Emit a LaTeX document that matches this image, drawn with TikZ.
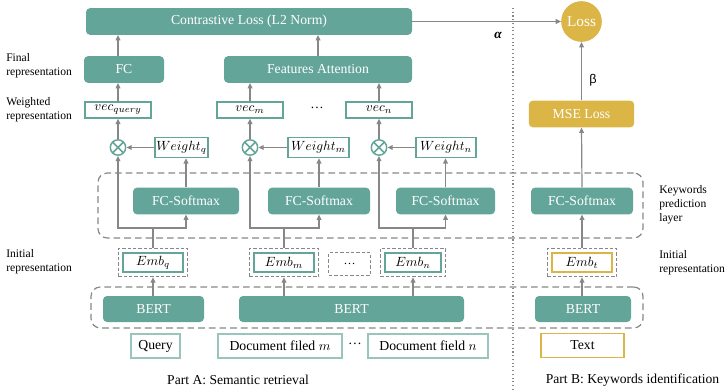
\documentclass[tikz,border=0pt]{standalone}
\usepackage{fontspec}
\setmainfont{Liberation Serif}
\newfontfamily\greekfont{Liberation Sans}
\usetikzlibrary{arrows.meta,positioning,fit,backgrounds}
\definecolor{kgreen}{HTML}{64A59A}
\definecolor{kyellow}{HTML}{DCB547}
\definecolor{kgray}{HTML}{878787}
\newcommand{\sidefont}{\fontsize{8.7}{10.5}\selectfont}
\tikzset{
  block/.style={
    rectangle,
    rounded corners=3pt,
    fill=kgreen,
    text=white,
    inner sep=0pt,
    minimum height=20pt,
    font=\fontsize{10.3}{12}\selectfont
  },
  yblock/.style={
    block,
    fill=kyellow
  },
  vecbox/.style={
    rectangle,
    draw=kgreen,
    line width=1.1pt,
    fill=white,
    inner sep=1pt,
    minimum width=49.5pt,
    minimum height=12pt,
    font=\fontsize{9.6}{10}\selectfont
  },
  weightbox/.style={
    vecbox,
    minimum height=15pt
  },
  embbox/.style={
    vecbox,
    minimum width=45pt,
    minimum height=14.25pt
  },
  embframe/.style={
    rectangle,
    draw=kgray,
    line width=0.9pt,
    dash pattern=on 2.5pt off 1.5pt,
    inner sep=3pt
  },
  inbox/.style={
    rectangle,
    draw=kgreen!65,
    line width=1.1pt,
    minimum height=18pt,
    inner sep=0pt,
    font=\fontsize{10.3}{12}\selectfont
  },
  group/.style={
    rectangle,
    rounded corners=7pt,
    draw=kgray,
    line width=0.9pt,
    dash pattern=on 5pt off 3pt,
    inner sep=0pt
  },
  mult/.style={
    circle,
    draw=kgreen,
    line width=1.1pt,
    minimum size=11.5pt,
    inner sep=0pt,
    path picture={
      \draw[kgreen, line width=1.1pt]
        (path picture bounding box.north west) -- (path picture bounding box.south east)
        (path picture bounding box.south west) -- (path picture bounding box.north east);
    }
  },
  sidelabel/.style={
    anchor=west,
    align=left,
    inner sep=0pt,
    font=\sidefont
  },
  arrow/.style={
    -{Triangle[length=4pt,width=3.6pt]},
    line width=0.9pt,
    draw=kgray
  },
  line/.style={
    line width=0.9pt,
    draw=kgray
  }
}

\begin{document}
\begin{tikzpicture}[x=0.75pt, y=-0.75pt]
  \useasboundingbox (0,0) rectangle (727,392);

  % losses
  \node[block, minimum width=244.5pt] (closs) at (249,21.5) {Contrastive Loss (L2 Norm)};
  \node[yblock, circle, minimum size=30.5pt, font=\fontsize{11.5}{13}\selectfont] (loss) at (581.5,21.5) {Loss};
  \node[yblock, minimum width=79pt] (mse) at (581.5,114) {MSE Loss};

  % final and weighted representation
  \node[block, minimum width=60pt] (fc) at (124,69.5) {FC};
  \node[block, minimum width=141pt] (fa) at (318,69.5) {Features Attention};
  \node[vecbox] (vecq) at (118,110) {$vec_{query}$};
  \node[vecbox] (vecm) at (250,110) {$vec_m$};
  \node[font=\fontsize{10}{12}\selectfont] (vdots) at (317,108) {\dots};
  \node[vecbox] (vecn) at (379,110) {$vec_n$};

  \node[mult] (mq) at (118,147.5) {};
  \node[mult] (mm) at (250,147.5) {};
  \node[mult] (mn) at (379,147.5) {};
  \node[weightbox, minimum width=38pt] (wq) at (181.5,147.5) {$Weight_q$};
  \node[weightbox, minimum width=45.5pt] (wm) at (318.5,147.5) {$Weight_m$};
  \node[weightbox, minimum width=45pt] (wn) at (446,147.5) {$Weight_n$};

  % keywords prediction layer
  \node[block, minimum width=79.5pt] (fcs1) at (186,201) {FC-Softmax};
  \node[block, minimum width=76.5pt] (fcs2) at (319,201) {FC-Softmax};
  \node[block, minimum width=74.25pt] (fcs3) at (445.5,201) {FC-Softmax};
  \node[block, minimum width=76.5pt] (fcst) at (582,201) {FC-Softmax};
  \coordinate (kwnw) at (98,173);
  \coordinate (kwse) at (643,238);
  \node[group, fit=(kwnw)(kwse)] (kw) {};
  \coordinate (split) at (0,228);

  % initial representation
  \node[embbox] (embq) at (153,262.5) {$Emb_q$};
  \node[embframe, fit=(embq)] (embqf) {};
  \node[embbox] (embm) at (284,262.5) {$Emb_m$};
  \node[embframe, fit=(embm)] (embmf) {};
  \node[embframe, minimum width=31pt, minimum height=17pt, inner sep=0pt] (edots) at (349.5,264) {\fontsize{9}{10}\selectfont\dots};
  \node[embbox, minimum width=42pt] (embn) at (413,262.5) {$Emb_n$};
  \node[embframe, fit=(embn)] (embnf) {};
  \node[embbox, draw=kyellow] (embt) at (582,262.5) {$Emb_t$};
  \node[embframe, fit=(embt)] (embtf) {};

  % encoders
  \node[block, minimum width=75.75pt, minimum height=19.5pt] (bert1) at (153.5,309) {BERT};
  \node[block, minimum width=168.75pt, minimum height=19.5pt] (bert2) at (351.5,309) {BERT};
  \node[block, minimum width=72pt, minimum height=19.5pt] (bertt) at (583,309) {BERT};
  \coordinate (bgnw) at (91,287);
  \coordinate (bgse) at (643,328);
  \node[group, fit=(bgnw)(bgse)] (bg) {};

  % inputs
  \node[inbox, minimum width=36.75pt] (query) at (155.5,346) {Query};
  \node[inbox, minimum width=93pt] (docm) at (280,346) {Document filed $m$};
  \node[font=\fontsize{10.3}{12}\selectfont] (indots) at (355,344) {\dots};
  \node[inbox, minimum width=90pt] (docn) at (428,346) {Document field $n$};
  \node[inbox, draw=kyellow, minimum width=62.25pt] (text) at (582.5,345.5) {Text};

  % captions and side labels
  \node[font=\fontsize{10.2}{12}\selectfont] (capa) at (238,380) {Part A: Semantic retrieval};
  \node[font=\fontsize{10.2}{12}\selectfont] (capb) at (632.5,380) {Part B: Keywords identification};
  \node[sidelabel] (lfinal) at (6,66) {Final\\representation};
  \node[sidelabel] (lweight) at (6,110) {Weighted\\representation};
  \node[sidelabel] (linit) at (6,262) {Initial\\representation};
  \node[sidelabel] (rkw) at (659,205) {Keywords\\prediction\\layer};
  \node[sidelabel] (rinit) at (659,263) {Initial\\representation};
  \node[font=\fontsize{10}{12}\selectfont\bfseries\itshape] (alpha) at (498,35) {α};
  \node[font=\fontsize{9.5}{11}\selectfont\greekfont] (beta) at (593,80) {β};

  \coordinate (septop) at (513,8);
  \coordinate (sepbot) at (513,392);
  \draw[kgray, line width=0.8pt, dotted] (septop) -- (sepbot);

  % connectors
  \draw[arrow] (closs.east) -- (loss.west);
  \draw[arrow] (mse.north) -- (loss.south);
  \draw[arrow] (vecq.north |- fc.north) -- (vecq.north |- closs.south);
  \draw[arrow] (fa.north) -- (fa.north |- closs.south);
  \draw[arrow] (vecq.north) -- (vecq.north |- fc.south);
  \draw[arrow] (vecm.north) -- (vecm.north |- fa.south);
  \draw[arrow] (vecn.north) -- (vecn.north |- fa.south);
  \draw[arrow] (mq.north) -- (vecq.south);
  \draw[arrow] (mm.north) -- (vecm.south);
  \draw[arrow] (mn.north) -- (vecn.south);
  \draw[arrow] (wq.west) -- (mq.east);
  \draw[arrow] (wm.west) -- (mm.east);
  \draw[arrow] (wn.west) -- (mn.east);
  \draw[arrow] (fcs1.north) -- (fcs1.north |- wq.south);
  \draw[arrow] (fcs2.north) -- (fcs2.north |- wm.south);
  \draw[arrow] (fcs3.north) -- (fcs3.north |- wn.south);
  \draw[arrow] (fcst.north) -- (mse.south);

  \draw[line] (embqf.north) -- (embqf.north |- split);
  \draw[arrow] (embqf.north |- split) -| (mq.south);
  \draw[arrow] (embqf.north |- split) -| (fcs1.south);
  \draw[line] (embmf.north) -- (embmf.north |- split);
  \draw[arrow] (embmf.north |- split) -| (mm.south);
  \draw[arrow] (embmf.north |- split) -| (fcs2.south);
  \draw[line] (embnf.north) -- (embnf.north |- split);
  \draw[arrow] (embnf.north |- split) -| (mn.south);
  \draw[arrow] (embnf.north |- split) -| (fcs3.south);
  \draw[arrow] (embtf.north) -- (fcst.south);

  \draw[arrow] (embqf.south |- bert1.north) -- (embqf.south);
  \draw[arrow] (embmf.south |- bert2.north) -- (embmf.south);
  \draw[arrow] (embnf.south |- bert2.north) -- (embnf.south);
  \draw[arrow] (embtf.south |- bertt.north) -- (embtf.south);
\end{tikzpicture}
\end{document}
